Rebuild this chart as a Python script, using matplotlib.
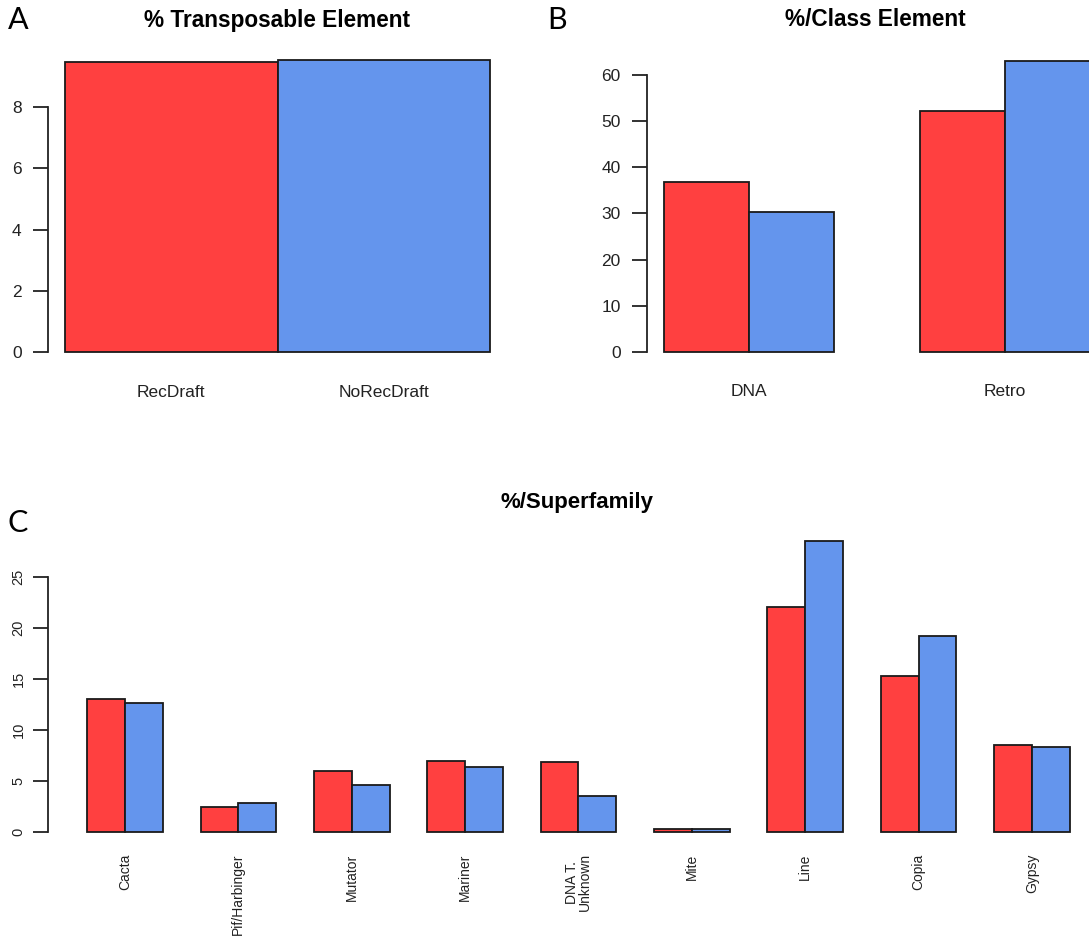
import matplotlib
matplotlib.use("Agg")
import matplotlib.pyplot as plt
import numpy as np

# data
te_labels = ["RecDraft", "NoRecDraft"]
te_values = [9.48, 9.54]

class_labels = ["DNA", "Retro"]
class_rec = [36.8, 52.1]
class_norec = [30.4, 63.0]

sf_labels = ["Cacta", "Pif/Harbinger", "Mutator", "Mariner", "DNA T.\nUnknown",
             "Mite", "Line", "Copia", "Gypsy"]
sf_rec = [13.0, 2.5, 6.0, 6.97, 6.85, 0.3, 22.1, 15.3, 8.55]
sf_norec = [12.6, 2.8, 4.6, 6.35, 3.5, 0.3, 28.5, 19.2, 8.3]

RED = "#FF4040"
BLUE = "#6495ED"
INK = "#222222"
W, H = 1089, 938

plt.rcParams["font.family"] = ["Liberation Sans", "DejaVu Sans"]
fig = plt.figure(figsize=(W / 100, H / 100), dpi=100)


def place(xlim, x0, xunit, xref, ylim, y0, yunit):
    # put an axes so that data xref lands on pixel x0 and y=0 on pixel y0
    left = x0 - (xref - xlim[0]) * xunit
    right = x0 + (xlim[1] - xref) * xunit
    top = y0 - ylim[1] * yunit
    bottom = y0 - ylim[0] * yunit
    ax = fig.add_axes([left / W, 1 - bottom / H, (right - left) / W, (bottom - top) / H])
    ax.set_xlim(*xlim)
    ax.set_ylim(*ylim)
    for s in ("top", "right", "bottom"):
        ax.spines[s].set_visible(False)
    ax.spines["left"].set_linewidth(1.3)
    ax.spines["left"].set_color(INK)
    ax.patch.set_alpha(0)
    return ax


def rlim(lo, hi):
    # R style 4% padding
    d = (hi - lo) * 0.04
    return (lo - d, hi + d)


def title(text, x, y, size):
    fig.text(x / W, 1 - y / H, text, fontsize=size, fontweight="bold",
             ha="center", va="center", color="black")


bar_kw = dict(align="edge", width=1.0, edgecolor="#1a1a1a", linewidth=1.3)

# ---- A
ax = place(rlim(0, 2), 65, 212.5, 0, rlim(0, max(te_values)), 352, 30.6)
ax.bar(np.arange(2), te_values, color=[RED, BLUE], **bar_kw)
ax.set_yticks([0, 2, 4, 6, 8])
ax.spines["left"].set_bounds(0, 8)
ax.tick_params(axis="y", length=11, width=1.3, pad=8, labelsize=12.5, color=INK, labelcolor=INK)
ax.set_xticks(np.arange(2) + 0.5, te_labels)
ax.tick_params(axis="x", length=0, pad=15, labelsize=12.5, labelcolor=INK)
title("% Transposable Element", 277, 20, 16.3)

# ---- B
xb = np.array([1, 4])
ax = place(rlim(1, 6), 664, 85.2, 1, rlim(0, max(class_rec + class_norec)), 352, 4.62)
ax.bar(xb, class_rec, color=RED, **bar_kw)
ax.bar(xb + 1, class_norec, color=BLUE, **bar_kw)
ax.set_yticks(range(0, 61, 10))
ax.spines["left"].set_bounds(0, 60)
ax.tick_params(axis="y", length=11, width=1.3, pad=8, labelsize=12.5, color=INK, labelcolor=INK)
ax.set_xticks(xb + 1, class_labels)
ax.tick_params(axis="x", length=0, pad=15, labelsize=12.5, labelcolor=INK)
title("%/Class Element", 875, 20, 16.3)

# ---- C
xc = 1 + 3 * np.arange(len(sf_labels))
ax = place(rlim(1, 27), 87.2, 37.79, 1, rlim(0, max(sf_rec + sf_norec)), 832, 10.2)
ax.bar(xc, sf_rec, color=RED, **bar_kw)
ax.bar(xc + 1, sf_norec, color=BLUE, **bar_kw)
ax.set_yticks(range(0, 26, 5))
ax.spines["left"].set_bounds(0, 25)
ax.tick_params(axis="y", length=11, width=1.3, pad=5, labelsize=10.5, color=INK, labelcolor=INK)
for t in ax.get_yticklabels():
    t.set_rotation(90)
    t.set_va("center")
ax.set_xticks(xc + 1, sf_labels, rotation=90, va="top", ha="center", linespacing=0.95)
ax.tick_params(axis="x", length=0, pad=7, labelsize=10, labelcolor=INK)
title("%/Superfamily", 577, 502, 16)

# panel letters
for letter, x, y in [("A", 18, 20), ("B", 557, 20), ("C", 18, 523)]:
    fig.text(x / W, 1 - y / H, letter, fontsize=22, family=["Lato", "DejaVu Sans"],
             ha="center", va="center")

fig.savefig("out.png", dpi=100)
